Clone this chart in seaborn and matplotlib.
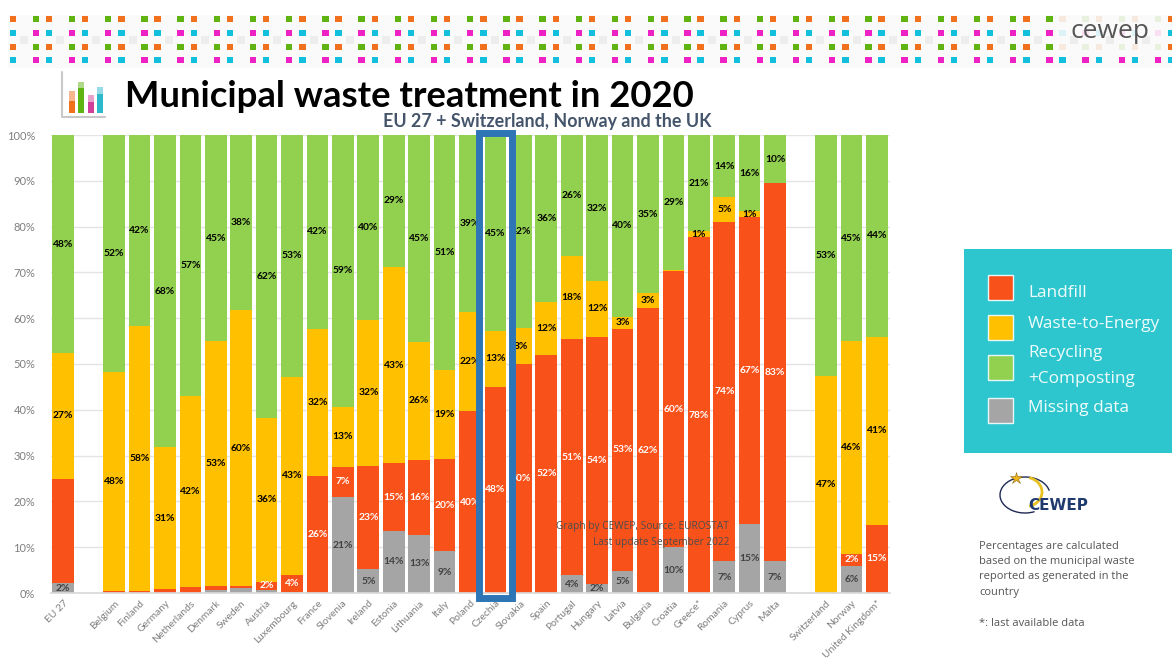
import numpy as np
import pandas as pd
import seaborn as sns
import matplotlib.pyplot as plt
from matplotlib.patches import Rectangle, Arc

countries = ["EU 27", "Belgium", "Finland", "Germany", "Netherlands", "Denmark", "Sweden", "Austria",
             "Luxembourg", "France", "Slovenia", "Ireland", "Estonia", "Lithuania", "Italy", "Poland",
             "Czechia", "Slovakia", "Spain", "Portugal", "Hungary", "Latvia", "Bulgaria", "Croatia",
             "Greece*", "Romania", "Cyprus", "Malta", "Switzerland", "Norway", "United Kingdom*"]

# segment heights
missing = [2.1, 0, 0, 0, 0, 0.7, 1.1, 0.6, 0.2, 0, 20.9, 5.2, 13.6, 12.7, 9.1, 0,
           0, 0, 0, 3.9, 1.9, 4.9, 0.2, 10.0, 0, 6.9, 15.1, 6.9, 0, 6.0, 0]
landfill = [22.9, 0.4, 0.4, 0.8, 1.4, 0.8, 0.5, 1.9, 3.7, 25.6, 6.7, 22.6, 14.7, 16.3, 20.1, 39.7,
            45.0, 49.9, 52.0, 51.5, 54.1, 52.8, 62.0, 60.3, 77.7, 74.0, 66.9, 82.6, 0, 2.5, 14.9]
wte = [27.3, 47.9, 58.0, 31.0, 41.7, 53.5, 60.1, 35.8, 43.3, 32.1, 13.1, 31.9, 42.9, 25.9, 19.4, 21.7,
       12.2, 7.9, 11.5, 18.2, 12.1, 2.6, 3.3, 0.2, 1.3, 5.5, 1.4, 0, 47.3, 46.5, 41.0]
recycling = [47.7, 51.7, 41.6, 68.2, 56.9, 45.0, 38.3, 61.7, 52.8, 42.3, 59.3, 40.3, 28.8, 45.1, 51.4, 38.6,
             42.8, 42.2, 36.5, 26.4, 31.9, 39.7, 34.5, 29.5, 21.0, 13.6, 16.6, 10.5, 52.7, 45.0, 44.1]

# printed percentages (they do not always agree with the heights), 0 = no label
missing_labels = [2, 0, 0, 0, 0, 0, 0, 0, 0, 0, 21, 5, 14, 13, 9, 0,
                  0, 0, 0, 4, 2, 5, 0, 10, 0, 7, 15, 7, 0, 6, 0]
landfill_labels = [0, 0, 0, 0, 0, 0, 0, 2, 4, 26, 7, 23, 15, 16, 20, 40,
                   48, 50, 52, 51, 54, 53, 62, 60, 78, 74, 67, 83, 0, 2, 15]
wte_labels = [27, 48, 58, 31, 42, 53, 60, 36, 43, 32, 13, 32, 43, 26, 19, 22,
              13, 8, 12, 18, 12, 3, 3, 0, 1, 5, 1, 0, 47, 46, 41]
recycling_labels = [48, 52, 42, 68, 57, 45, 38, 62, 53, 42, 59, 40, 29, 45, 51, 39,
                    45, 42, 36, 26, 32, 40, 35, 29, 21, 14, 16, 10, 53, 45, 44]

footnote = ["Percentages are calculated", "based on the municipal waste",
            "reported as generated in the", "country"]

RED = "#F9511A"
YELLOW = "#FFC000"
GREEN = "#92D050"
GREY = "#A5A5A5"

sns.set_theme(style="white")
plt.rcParams['font.family'] = ['Lato', 'DejaVu Sans']

df = pd.DataFrame({"country": countries, "missing": missing, "landfill": landfill,
                   "wte": wte, "recycling": recycling})
df["top_missing"] = df["missing"]
df["top_landfill"] = df["top_missing"] + df["landfill"]
df["top_wte"] = df["top_landfill"] + df["wte"]
df["top_recycling"] = df["top_wte"] + df["recycling"]

# blank categories leave the gaps after EU 27 and before Switzerland
order = countries[:1] + [" "] + countries[1:28] + ["  "] + countries[28:]

fig = plt.figure(figsize=(11.72, 6.62), dpi=100, facecolor="white")
ax = fig.add_axes([50.5 / 1172, 69 / 662, 839 / 1172, 458 / 662])

# stacks are drawn tallest first so every layer covers the one behind it
for col, colour in [("top_recycling", GREEN), ("top_wte", YELLOW), ("top_landfill", RED), ("top_missing", GREY)]:
    sns.barplot(data=df, x="country", y=col, order=order, color=colour, saturation=1,
                width=0.85, errorbar=None, linewidth=0, ax=ax, zorder=2)

ax.set_ylim(0, 100)
ax.set_xlim(-0.5, len(order) - 0.5)
ax.set_xlabel("")
ax.set_ylabel("")
ax.set_yticks(np.arange(0, 101, 10))
ax.set_yticklabels([f"{v}%" for v in range(0, 101, 10)], fontsize=8, color="#7F7F7F")
ax.tick_params(axis="y", length=0, pad=11)
ax.tick_params(axis="x", length=0, pad=4)
ax.set_xticks(range(len(order)))
ax.set_xticklabels(order, rotation=45, ha="right", rotation_mode="anchor", fontsize=7.4, color="#7F7F7F")
ax.grid(axis="y", color="#E4E4E4", lw=1, zorder=0)
ax.set_axisbelow(True)
sns.despine(ax=ax, left=True, top=True, right=True)
ax.spines["bottom"].set_color("#D9D9D9")

# value labels in the middle of each segment
layers = [("top_missing", "missing", missing_labels, "#404040"),
          ("top_landfill", "landfill", landfill_labels, "white"),
          ("top_wte", "wte", wte_labels, "black"),
          ("top_recycling", "recycling", recycling_labels, "black")]
for top, height, labels, colour in layers:
    for i, name in enumerate(countries):
        if labels[i] == 0:
            continue
        y = df[top][i] - df[height][i] / 2
        ax.text(order.index(name), y, f"{labels[i]}%", ha="center", va="center",
                fontsize=7.4, fontweight="bold", color=colour, zorder=4)

# everything around the chart sits on an overlay in picture pixels
over = fig.add_axes([0, 0, 1, 1], zorder=5)
over.set_xlim(0, 1172)
over.set_ylim(662, 0)
over.axis("off")

# dotted header band
over.add_patch(Rectangle((8, 15), 1164, 53, color="#FAFAFA", lw=0))
for k in range(33):
    x0 = 13 + 36.2 * k
    x1 = 36 + 36.2 * k
    over.add_patch(Rectangle((x0 + 7, 36), 8, 8, color="#EDEDED", lw=0))
    for y, c0, c1 in [(19, "#F0701E", "#5FB412"), (33, "#12BFDC", "#EE22C4"),
                      (47, "#F0701E", "#5FB412"), (60, "#12BFDC", "#EE22C4")]:
        # the wordmark fades the dots behind it
        faded = 1060 < x0 < 1150 and y < 50
        over.add_patch(Rectangle((x0 - 3.5, y - 3), 6.5, 6, color=c0, lw=0, alpha=0.12 if faded else 1))
        over.add_patch(Rectangle((x1 - 3.5, y - 3), 6.5, 6, color=c1, lw=0, alpha=0.12 if faded else 1))
over.text(1110, 32, "cewep", ha="center", va="center", fontsize=19, color="#555555", family="Open Sans")

# little bar chart icon
over.plot([62, 62, 105], [72, 116.5, 116.5], color="#C8C8C8", lw=1.5)
for x, top, mid, c in [(69, 91, 101, "#F0701E"), (78, 82, 88, "#5FB412"), (88, 95, 102, "#D0409A"), (97, 87, 94, "#2DB8CC")]:
    over.add_patch(Rectangle((x, top), 6, 113 - top, color=c, alpha=0.5, lw=0))
    over.add_patch(Rectangle((x, mid), 6, 113 - mid, color=c, lw=0))

over.text(125, 107, "Municipal waste treatment in 2020", fontsize=26.3, fontweight="bold",
          color="black", va="baseline", ha="left")
over.text(547, 127, "EU 27 + Switzerland, Norway and the UK", fontsize=12.85, fontweight="bold",
          color="#44546A", va="baseline", ha="center")

# box round Czechia
over.add_patch(Rectangle((478.5, 132.5), 33.5, 465, fill=False, ec="#2E75B6", lw=5))

over.text(729, 526, "Graph by CEWEP, Source: EUROSTAT", ha="right", va="center", fontsize=7.3,
          color="#4D4D4D", family="Open Sans")
over.text(729, 543, "Last update September 2022", ha="right", va="center", fontsize=7.3,
          color="#4D4D4D", family="Open Sans")

# legend panel
over.add_patch(Rectangle((964, 249), 208, 204, color="#2DC6CF", lw=0))
for y, c in [(275, RED), (315, YELLOW), (355, GREEN), (398, GREY)]:
    over.add_patch(Rectangle((988, y), 25, 25, fc=c, ec="#E8F8F8", lw=1))
for y, txt in [(292, "Landfill"), (323, "Waste-to-Energy"), (352, "Recycling"),
               (378, "+Composting"), (407, "Missing data")]:
    over.text(1028, y + 1, txt, fontsize=12.4, color="#EFFBFB", va="center", ha="left", family="Open Sans")

# CEWEP logo
over.add_patch(Arc((1025, 495), 50, 36, theta1=60, theta2=350, color="#1F2A55", lw=1))
over.add_patch(Arc((1024, 492), 36, 30, theta1=-70, theta2=70, color="#E8C020", lw=2))
over.plot([1016], [478], marker="*", ms=9, color="#F2B51C", mec="#8A6A10", mew=0.4)
over.text(1058, 505, "CEWEP", ha="center", va="center", fontsize=11, fontweight="bold", color="#1F3A6E",
          family="DejaVu Sans")

for y, txt in zip([545, 560.5, 576, 591], footnote):
    over.text(979, y + 1, txt, fontsize=8, color="#555555", va="center", ha="left", family="Open Sans")
over.text(979, 623, "*: last available data", fontsize=8, color="#555555", va="center", ha="left", family="Open Sans")

fig.savefig("out.png", dpi=100)
